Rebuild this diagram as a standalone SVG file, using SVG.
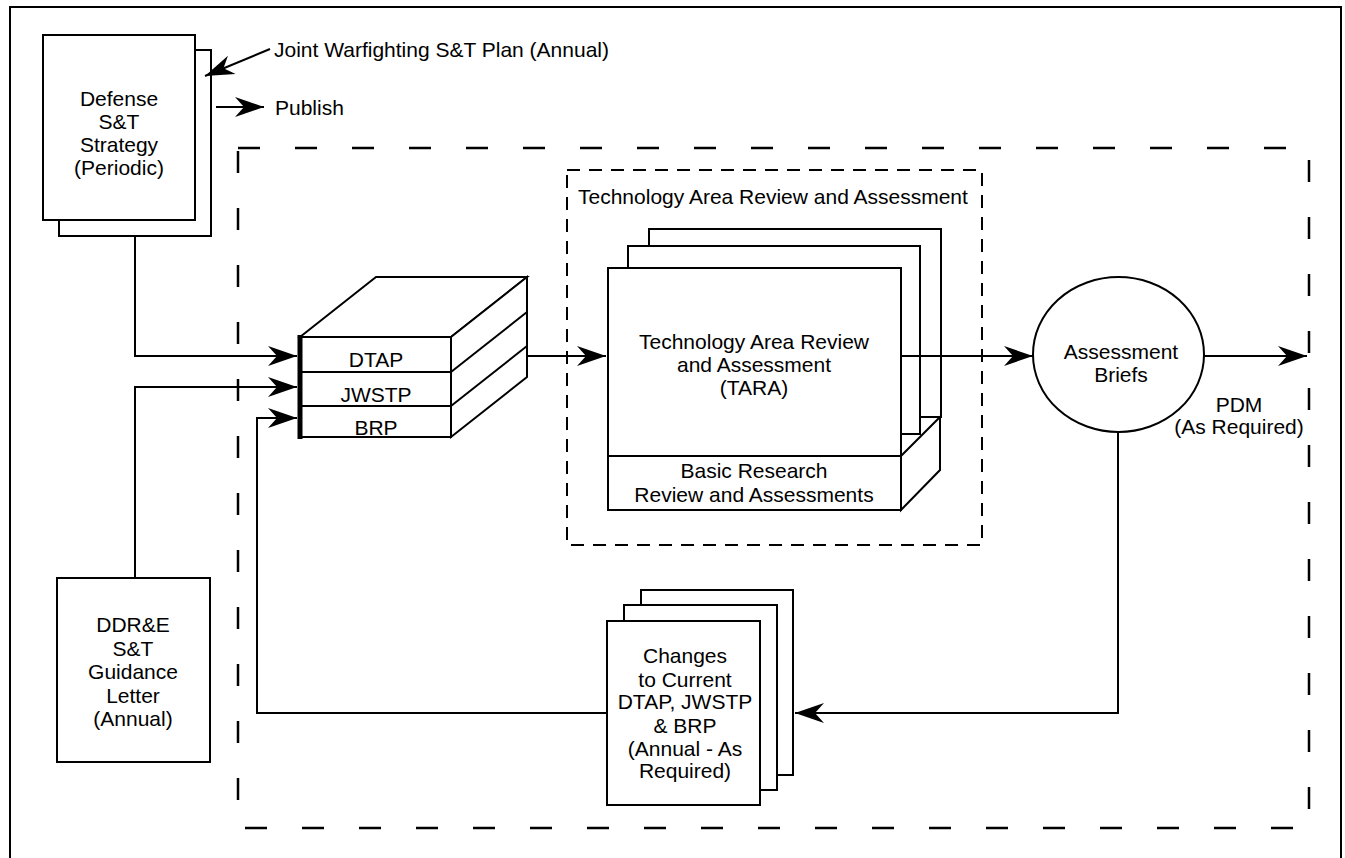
<svg xmlns="http://www.w3.org/2000/svg" width="1345" height="858" viewBox="0 0 1345 858">
  <style>
    .box{fill:#fff;stroke:#000;stroke-width:2;stroke-linejoin:miter}
    .ln{fill:none;stroke:#000;stroke-width:2}
    .arr{marker-end:url(#ah)}
    .dash-outer{fill:none;stroke:#000;stroke-width:2.5;stroke-dasharray:22 35}
    .dash-inner{fill:none;stroke:#000;stroke-width:2;stroke-dasharray:13 9}
    text{font-family:"Liberation Sans",Arial,Helvetica,sans-serif;font-size:21px;fill:#000}
    .c{text-anchor:middle}
  </style>
  <defs>
    <marker id="ah" markerUnits="userSpaceOnUse" viewBox="-32 -12 34 24" refX="0" refY="0" markerWidth="34" markerHeight="24" orient="auto">
      <path d="M0,0 L-29,-10 L-20,0 L-29,10 Z" fill="#000"/>
    </marker>
  </defs>

  <rect width="1345" height="858" fill="#fff"/>

  <!-- page border and grouping frames -->
  <g id="frames">
    <rect x="10" y="7" width="1331" height="870" class="ln"/>
    <rect x="238" y="148" width="1071" height="680" class="dash-outer"/>
  </g>

  <!-- Defense S&T Strategy -->
  <g id="node-strategy">
    <rect x="59" y="50" width="152" height="186" class="box"/>
    <rect x="43" y="35" width="152" height="185" class="box"/>
    <text class="c" x="119" y="106">Defense</text>
    <text class="c" x="119" y="129">S&amp;T</text>
    <text class="c" x="119" y="152">Strategy</text>
    <text class="c" x="119" y="175">(Periodic)</text>
  </g>

  <!-- DDR&E S&T Guidance Letter -->
  <g id="node-ddre">
    <rect x="57" y="578" width="153" height="184" class="box"/>
    <text class="c" x="133" y="632">DDR&amp;E</text>
    <text class="c" x="133" y="656">S&amp;T</text>
    <text class="c" x="133" y="679">Guidance</text>
    <text class="c" x="133" y="703">Letter</text>
    <text class="c" x="133" y="726">(Annual)</text>
  </g>

  <!-- DTAP / JWSTP / BRP stack -->
  <g id="node-plans">
    <polygon points="300,337 376,277 527,277 451,337" class="box"/>
    <polygon points="451,337 527,277 527,377 451,437" class="box"/>
    <rect x="300" y="337" width="151" height="100" class="box"/>
    <line x1="300" y1="372" x2="451" y2="372" class="ln"/>
    <line x1="300" y1="406" x2="451" y2="406" class="ln"/>
    <line x1="451" y1="372" x2="527" y2="312" class="ln"/>
    <line x1="451" y1="406" x2="527" y2="346" class="ln"/>
    <line x1="300" y1="335" x2="300" y2="439" stroke="#000" stroke-width="5"/>
    <text class="c" x="376" y="367">DTAP</text>
    <text class="c" x="376" y="402">JWSTP</text>
    <text class="c" x="376" y="435">BRP</text>
  </g>

  <!-- Technology Area Review and Assessment -->
  <g id="node-tara">
    <rect x="567" y="170" width="415" height="375" class="dash-inner"/>
    <text x="578" y="204">Technology Area Review and Assessment</text>
    <rect x="649" y="229" width="292" height="188" class="box"/>
    <rect x="628" y="246" width="292" height="188" class="box"/>
    <polygon points="901,456 940,417 940,470 901,510" class="box"/>
    <rect x="608" y="268" width="293" height="242" class="box"/>
    <line x1="608" y1="456" x2="901" y2="456" class="ln"/>
    <text class="c" x="754" y="349">Technology Area Review</text>
    <text class="c" x="754" y="372">and Assessment</text>
    <text class="c" x="754" y="395">(TARA)</text>
    <text class="c" x="754" y="478">Basic Research</text>
    <text class="c" x="754" y="502">Review and Assessments</text>
  </g>

  <!-- Assessment Briefs -->
  <g id="node-briefs">
    <ellipse cx="1118.5" cy="354.5" rx="85.5" ry="77.5" class="box"/>
    <text class="c" x="1121" y="359">Assessment</text>
    <text class="c" x="1121" y="382">Briefs</text>
  </g>

  <!-- Changes to Current DTAP, JWSTP & BRP -->
  <g id="node-changes">
    <rect x="641" y="590" width="152" height="185" class="box"/>
    <rect x="624" y="605" width="153" height="185" class="box"/>
    <rect x="607" y="621" width="153" height="184" class="box"/>
    <text class="c" x="685" y="663">Changes</text>
    <text class="c" x="685" y="687">to Current</text>
    <text class="c" x="685" y="709">DTAP, JWSTP</text>
    <text class="c" x="685" y="733">&amp; BRP</text>
    <text class="c" x="685" y="756">(Annual - As</text>
    <text class="c" x="685" y="778">Required)</text>
  </g>

  <!-- flows -->
  <g id="connectors">
    <line x1="270" y1="49" x2="205" y2="76" class="ln arr"/>
    <line x1="216" y1="107" x2="264" y2="107" class="ln arr"/>
    <path d="M135,236 V356 H297" class="ln arr"/>
    <path d="M135,578 V387 H297" class="ln arr"/>
    <path d="M607,713 H257 V418 H297" class="ln arr"/>
    <path d="M527,356 H606" class="ln arr"/>
    <path d="M901,356 H1033" class="ln arr"/>
    <path d="M1204,356 H1307" class="ln arr"/>
    <path d="M1118,432 V713 H795" class="ln arr"/>
    <text x="274" y="57">Joint Warfighting S&amp;T Plan (Annual)</text>
    <text x="275" y="115">Publish</text>
    <text class="c" x="1239" y="412">PDM</text>
    <text class="c" x="1239" y="434">(As Required)</text>
  </g>
</svg>
